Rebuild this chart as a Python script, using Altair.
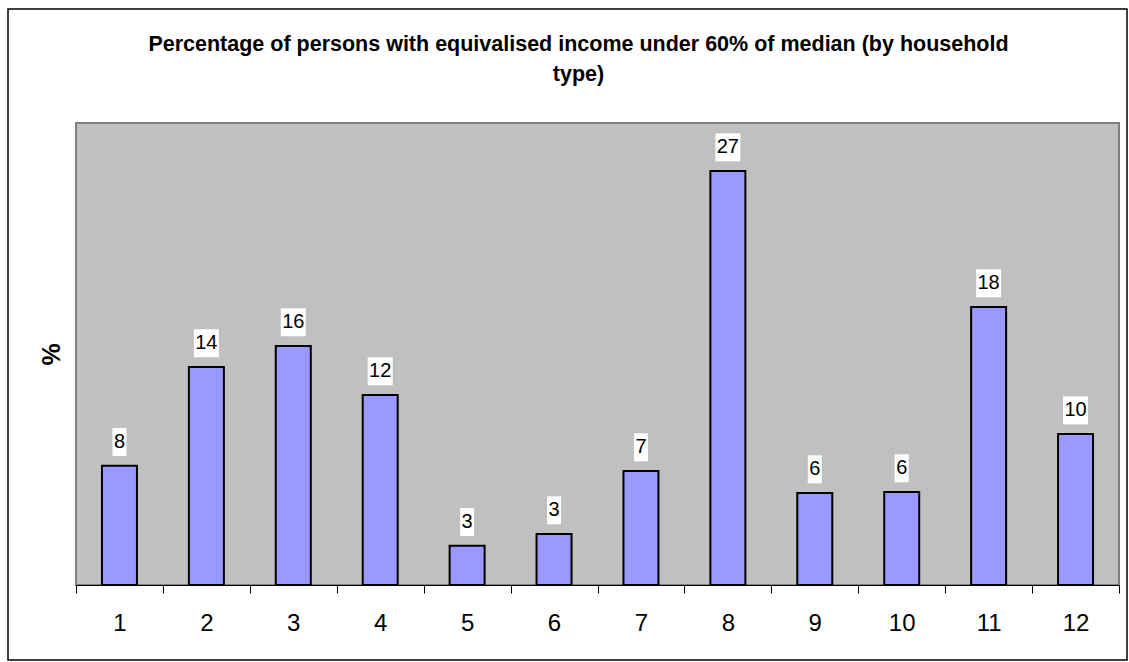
import altair as alt
import pandas as pd

categories = ["1", "2", "3", "4", "5", "6", "7", "8", "9", "10", "11", "12"]
values = [7.75, 14.16, 15.52, 12.34, 2.55, 3.31, 7.40, 26.88, 5.97, 6.04, 18.05, 9.80]

title_lines = ["Percentage of persons with equivalised income under 60% of median (by household", "type)"]
y_title = "%"

W, H = 1043, 462
YMAX = 30
PPU = H / YMAX  # pixels per unit

df = pd.DataFrame({"cat": categories, "value": values})

FONT = "Liberation Sans"

x_enc = alt.X("cat:N", sort=categories,
              scale=alt.Scale(paddingInner=0, paddingOuter=0),
              axis=alt.Axis(title=None, labelAngle=0, labelFontSize=24, labelFont=FONT,
                            labelColor="black", tickBand="extent", tickSize=8,
                            tickColor="black", domainColor="black", domainWidth=1,
                            labelPadding=18))
y_enc = alt.Y("value:Q", scale=alt.Scale(domain=[0, YMAX], nice=False, zero=True),
              axis=alt.Axis(title=y_title, labels=False, ticks=False, domain=False, grid=False,
                            titleFontSize=25, titleFont=FONT, titleFontWeight="bold",
                            titleColor="black", titlePadding=12))

base = alt.Chart(df)

bars = base.mark_bar(size=35, color="#9999FF", stroke="black", strokeWidth=2).encode(
    x=x_enc, y=y_enc)

boxes = base.transform_calculate(
    lo=f"datum.value + {9.7 / PPU}",
    hi=f"datum.value + {37.7 / PPU}",
    bw="length(format(datum.value, '.0f')) * 11 + 3",
).mark_bar(color="white").encode(
    x=alt.X("cat:N", sort=categories),
    y=alt.Y("lo:Q"),
    y2=alt.Y2("hi:Q"),
    size=alt.Size("bw:Q", scale=None, legend=None),
)

labels = base.mark_text(fontSize=20, font=FONT, color="black", baseline="middle", dy=-23.7).encode(
    x=alt.X("cat:N", sort=categories),
    y=alt.Y("value:Q"),
    text=alt.Text("value:Q", format=".0f"),
)

border = alt.Chart(pd.DataFrame({"a": [0]})).mark_rect(fill=None, stroke="black", strokeWidth=1.5).encode(
    x=alt.value(-68), x2=alt.value(1051), y=alt.value(-114), y2=alt.value(537))

chart = alt.layer(bars, boxes, labels, border).properties(
    width=W, height=H,
    background="white",
    title=alt.Title(title_lines, fontSize=21.5, font=FONT, fontWeight="bold", color="black",
                    anchor="middle", lineHeight=30, offset=-77, dx=-19),
    autosize=alt.AutoSizeParams(type="none"),
    padding={"left": 76, "top": 123, "right": 10, "bottom": 77},
).configure_view(
    fill="#C0C0C0", stroke="#808080", strokeWidth=2
)

chart.save("out.html", embed_options={"renderer": "svg", "actions": False})
